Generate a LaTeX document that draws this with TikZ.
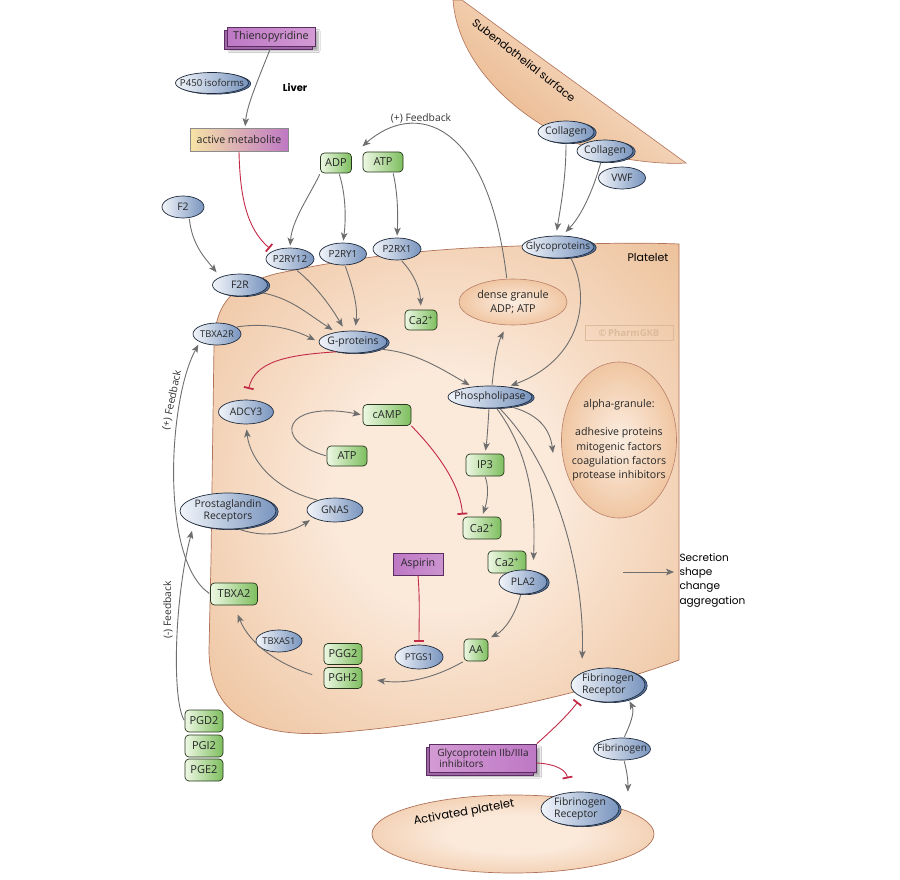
\documentclass[tikz,border=0pt]{standalone}
\usepackage{fontspec}
\setmainfont{Open Sans}
\newfontfamily\comic{Poppins}
\usetikzlibrary{shapes.geometric,arrows.meta,shadows,shadows.blur}
\definecolor{ellL}{HTML}{F2F5FA}
\definecolor{ellR}{HTML}{7894BE}
\definecolor{ellS}{HTML}{5A78A4}
\definecolor{ellD}{HTML}{1F2B3C}
\definecolor{gL}{HTML}{EEF8E4}
\definecolor{gR}{HTML}{7DBE5E}
\definecolor{gD}{HTML}{26361C}
\definecolor{pL}{HTML}{BE78C4}
\definecolor{pR}{HTML}{D39AD4}
\definecolor{pD}{HTML}{5A2E60}
\definecolor{plIn}{HTML}{FBE9DA}
\definecolor{plOut}{HTML}{E8B385}
\definecolor{plD}{HTML}{B07258}
\definecolor{granIn}{HTML}{FCEEE2}
\definecolor{granOut}{HTML}{F0C6A2}
\definecolor{granD}{HTML}{B98069}
\definecolor{arrc}{HTML}{6E6E6E}
\definecolor{inhc}{HTML}{C22A48}
\definecolor{ymet}{HTML}{F7E3A6}
\definecolor{wm}{HTML}{DDBB9A}
\pgfdeclareradialshading{pltshade}{\pgfpoint{0bp}{0bp}}{color(0bp)=(plIn); color(12bp)=(plIn); color(44bp)=(plOut); color(50bp)=(plOut)}
\newcommand{\zt}[1]{\makebox[0pt]{#1}}
\begin{document}
\begin{tikzpicture}[x=1pt,y=-1pt,
  ell/.style={ellipse, draw=ellD, line width=0.7pt, left color=ellL, right color=ellR, inner sep=0pt, font=\fontsize{10.4}{12}\selectfont, text=black!85},
  dbl/.style={general shadow={shadow xshift=2.2pt, shadow yshift=-0.7pt, fill=ellS, draw=ellD, line width=0.6pt}},
  gbox/.style={rectangle, rounded corners=4pt, draw=gD, line width=0.7pt, left color=gL, right color=gR, inner sep=0pt, minimum height=21pt, font=\fontsize{11}{12}\selectfont, text=black!85},
  pbox/.style={rectangle, draw=pD, line width=0.7pt, left color=pL, right color=pR, inner sep=0pt, text=black!85},
  pdbl/.style={blur shadow={shadow xshift=3pt, shadow yshift=-4pt, shadow blur steps=6, shadow opacity=35}, general shadow={shadow xshift=-3pt, shadow yshift=-3pt, fill=pL!85!black, draw=pD, line width=0.7pt}},
  gran/.style={ellipse, draw=granD, line width=0.6pt, inner color=granIn, outer color=granOut, inner sep=0pt, align=center, font=\fontsize{10.8}{13.5}\selectfont, text=black!85},
  arr/.style={draw=arrc, line width=0.9pt, -{Stealth[length=8pt,width=6.5pt,inset=2pt]}, shorten >=2pt, shorten <=1pt},
  inh/.style={draw=inhc, line width=0.9pt, -{Bar[width=10pt,line width=1.8pt]}},
  lbl/.style={font=\fontsize{10.3}{12}\selectfont, text=black!80},
  cmc/.style={font=\comic\fontsize{11}{13}\selectfont, text=black}
]
\useasboundingbox (0,0) rectangle (900,880);
\fill[white] (0,0) rectangle (900,880);

% subendothelial surface
\path[draw=plD, line width=0.6pt, top color=plIn, bottom color=plOut, shading angle=-40]
  (453,0) -- (462,0) .. controls (530,50) and (620,115) .. (686,163)
  .. controls (670,164) and (650,163) .. (620,158)
  .. controls (530,135) and (458,70) .. (453,0) -- cycle;

% platelet
\path[draw=plD, line width=0.7pt, shading=pltshade]
  (211,560) -- (214,345) .. controls (215,300) and (235,285) .. (275,274)
  .. controls (340,260) and (400,252) .. (470,248)
  .. controls (560,244) and (630,242) .. (679,244) -- (679,660)
  .. controls (600,690) and (450,725) .. (330,733)
  .. controls (250,738) and (209,712) .. (209,650) -- cycle;

% activated platelet
\path[draw=plD, line width=0.7pt, shading=pltshade] (513,834) ellipse (141 and 39);

% granules and watermark
\node[gran, minimum width=108pt, minimum height=46pt] (dense) at (513,302) {dense granule\\ADP; ATP};
\node[gran, minimum width=115pt, minimum height=156pt] (alpha) at (619,440)
  {\zt{\fontsize{10.6}{14.3}\selectfont\begin{tabular}{@{}c@{}}alpha-granule:\\ \\ adhesive proteins\\ mitogenic factors\\ coagulation factors\\ protease inhibitors\end{tabular}}};
\node[draw=wm, line width=0.8pt, text=wm, font=\bfseries\fontsize{9.5}{11}\selectfont, minimum width=88pt, minimum height=15pt, inner sep=0pt] (wmk) at (629,333) {\textcopyright\,PharmGKB};

% nodes
\node[pbox, pdbl, minimum width=88pt, minimum height=19pt, font=\fontsize{10.8}{13}\selectfont] (thieno) at (271,37) {Thienopyridine};
\node[ell, dbl, minimum width=73pt, minimum height=21pt, font=\fontsize{9.6}{11}\selectfont] (p450) at (212,83) {\zt{P450 isoforms}};
\node[cmc, font=\comic\bfseries\fontsize{10}{12}\selectfont] (liver) at (295,88) {Liver};
\node[rectangle, draw=black!45, line width=0.6pt, left color=ymet, right color=pL, minimum width=98pt, minimum height=23pt, inner sep=0pt, font=\fontsize{10.6}{12}\selectfont, text=black!85] (actmet) at (239,140) {active metabolite};
\node[lbl] (fbtop) at (421,118) {(+) Feedback};
\node[gbox, minimum width=31pt, minimum height=20pt] (adp) at (336,163) {ADP};
\node[gbox, minimum width=40pt, minimum height=20pt] (atpa) at (383,162) {ATP};
\node[ell, minimum width=42pt, minimum height=22pt] (f2) at (183,207) {\zt{F2}};
\node[ell, minimum width=48pt, minimum height=22pt, font=\fontsize{9.8}{11}\selectfont] (p2ry12) at (290,259) {\zt{P2RY12}};
\node[ell, minimum width=47pt, minimum height=22pt, font=\fontsize{9.8}{11}\selectfont] (p2ry1) at (343,254) {\zt{P2RY1}};
\node[ell, minimum width=48pt, minimum height=22pt, font=\fontsize{9.8}{11}\selectfont] (p2rx1) at (397,249) {\zt{P2RX1}};
\node[ell, dbl, minimum width=55pt, minimum height=22pt] (f2r) at (240,285) {\zt{F2R}};
\node[gbox, minimum width=32pt, minimum height=20pt] (caa) at (421,320) {Ca2\textsuperscript{+}};
\node[ell, minimum width=48pt, minimum height=22pt, font=\fontsize{9.4}{11}\selectfont] (tbxa2r) at (217,334) {\zt{TBXA2R}};
\node[ell, dbl, minimum width=68pt, minimum height=22pt] (gprot) at (353,342) {\zt{G-proteins}};
\node[ell, dbl, minimum width=72pt, minimum height=22pt, font=\fontsize{10}{11}\selectfont] (glyco) at (558,247) {\zt{Glycoproteins}};
\node[ell, dbl, minimum width=56pt, minimum height=22pt] (colla) at (566,132) {\zt{Collagen}};
\node[ell, dbl, minimum width=56pt, minimum height=22pt] (collb) at (605,151) {\zt{Collagen}};
\node[ell, minimum width=47pt, minimum height=22pt] (vwf) at (622,178) {\zt{VWF}};
\node[cmc] (plt) at (648,257) {Platelet};
\node[ell, dbl, minimum width=84pt, minimum height=22pt] (phos) at (490,397) {\zt{Phospholipase}};
\node[ell, minimum width=55pt, minimum height=24pt] (adcy3) at (246,412) {\zt{ADCY3}};
\node[gbox, minimum width=48pt, minimum height=21pt] (camp) at (387,415) {cAMP};
\node[gbox, minimum width=40pt, minimum height=20pt] (atpb) at (347,456) {ATP};
\node[gbox, minimum width=38pt, minimum height=22pt] (ip3) at (485,465) {IP3};
\node[gbox, minimum width=38pt, minimum height=22pt] (cab) at (482,528) {Ca2\textsuperscript{+}};
\node[ell, dbl, minimum width=96pt, minimum height=36pt] (prost) at (228,511) {\zt{\begin{tabular}{@{}c@{}}Prostaglandin\\Receptors\end{tabular}}};
\node[ell, minimum width=56pt, minimum height=24pt] (gnas) at (335,510) {\zt{GNAS}};
\node[gbox, minimum width=38pt, minimum height=22pt] (cac) at (507,562) {Ca2\textsuperscript{+}};
\node[ell, dbl, minimum width=48pt, minimum height=24pt] (pla2) at (523,582) {\zt{PLA2}};
\node[pbox, minimum width=50pt, minimum height=22pt, font=\fontsize{10.6}{12}\selectfont, left color=pL, right color=pL!80!white] (asp) at (418,564) {Aspirin};
\node[gbox, minimum width=47pt, minimum height=22pt] (tbxa2) at (234,594) {TBXA2};
\node[ell, minimum width=46pt, minimum height=22pt, font=\fontsize{9.4}{11}\selectfont] (tbxas1) at (279,641) {\zt{TBXAS1}};
\node[gbox, minimum width=38pt, minimum height=21pt] (pgg2) at (343,654) {PGG2};
\node[gbox, minimum width=38pt, minimum height=21pt] (pgh2) at (343,678) {PGH2};
\node[ell, minimum width=48pt, minimum height=24pt, font=\fontsize{9.4}{11}\selectfont] (ptgs1) at (419,657) {\zt{PTGS1}};
\node[gbox, minimum width=24pt, minimum height=22pt] (aa) at (476,650) {AA};
\node[gbox, minimum width=38pt, minimum height=22pt] (pgd2) at (204,721) {PGD2};
\node[gbox, minimum width=38pt, minimum height=22pt] (pgi2) at (204,746) {PGI2};
\node[gbox, minimum width=38pt, minimum height=22pt] (pge2) at (204,770) {PGE2};
\node[pbox, pdbl, minimum width=107pt, minimum height=28pt, font=\fontsize{10}{11.5}\selectfont, align=left, left color=pR, right color=pL] (gpinh) at (483,758) {Glycoprotein IIb/IIIa\\\hspace*{2pt}inhibitors};
\node[ell, dbl, minimum width=74pt, minimum height=32pt] (fra) at (608,685) {\zt{\begin{tabular}{@{}l@{}}Fibrinogen\\Receptor\end{tabular}}};
\node[ell, minimum width=57pt, minimum height=22pt, font=\fontsize{10}{11}\selectfont] (fbg) at (622,749) {\zt{Fibrinogen}};
\node[ell, dbl, minimum width=78pt, minimum height=34pt] (frb) at (580,809) {\zt{\begin{tabular}{@{}l@{}}Fibrinogen\\Receptor\end{tabular}}};

% free labels
\node[cmc, font=\comic\fontsize{10.5}{14.3}\selectfont, align=left, anchor=west] (secr) at (676,580) {Secretion\\shape\\change\\aggregation};
\node[lbl, rotate=78] (fbp) at (172,400) {(+) Feedback};
\node[lbl, rotate=90] (fbm) at (168,610) {(-) Feedback};
\node[cmc, font=\comic\fontsize{11.5}{13}\selectfont, rotate=10] (actp) at (464,813) {Activated platelet};
\node[cmc, font=\comic\fontsize{11}{13}\selectfont, rotate=-38] (subt) at (524,60) {Subendothelial surface};

% connectors
\draw[arr] (thieno.south) .. controls (258,80) and (247,105) .. ([xshift=6pt]actmet.north);
\draw[inh, shorten >=4pt] (actmet.south) .. controls (240,195) and (246,228) .. (p2ry12.north west);
\draw[arr] (adp.south west) .. controls (310,195) and (292,220) .. (p2ry12.north);
\draw[arr] ([xshift=3pt]adp.south) .. controls (346,195) and (346,220) .. (p2ry1.north);
\draw[arr] ([xshift=10pt]atpa.south) .. controls (398,195) and (398,215) .. (p2rx1.north);
\draw[arr] (dense.105) .. controls (488,120) and (415,100) .. ([xshift=9pt,yshift=5pt]adp.north east);
\draw[arr, shorten >=6pt] (f2.-60) .. controls (192,245) and (205,258) .. (f2r.north west);
\draw[arr, shorten >=5pt] (p2ry12.-60) .. controls (315,285) and (330,305) .. (gprot.125);
\draw[arr, shorten >=5pt] (p2ry1.-80) .. controls (352,285) and (358,305) .. (gprot.80);
\draw[arr, shorten >=4pt] (f2r.-20) .. controls (290,298) and (305,312) .. (gprot.150);
\draw[arr, shorten >=4pt] (tbxa2r.20) .. controls (270,322) and (295,330) .. (gprot.west);
\draw[arr, shorten >=4pt] (p2rx1.-70) .. controls (415,275) and (420,290) .. (caa.north);
\draw[inh, shorten >=11pt] (gprot.210) .. controls (285,355) and (255,362) .. (adcy3.north);
\draw[arr, shorten >=3pt] (gprot.-15) .. controls (415,352) and (440,368) .. (phos.150);
\draw[arr, shorten >=7pt] (phos.80) .. controls (494,365) and (497,345) .. (dense.-105);
\draw[arr, shorten >=3pt] (glyco.-40) .. controls (592,300) and (580,360) .. (phos.30);
\draw[arr, shorten >=5pt] (colla.south) .. controls (566,180) and (560,210) .. (glyco.100);
\draw[arr, shorten >=5pt] (collb.250) .. controls (593,190) and (582,215) .. (glyco.70);
\draw[arr] (atpb.west) .. controls (270,440) and (285,400) .. (camp.west);
\draw[arr, shorten >=5pt] (gnas.150) .. controls (275,490) and (250,460) .. (adcy3.south);
\draw[arr, shorten >=4pt] (prost.-60) .. controls (270,540) and (295,530) .. (gnas.200);
\draw[inh, shorten >=2pt] (camp.south east) .. controls (430,445) and (460,480) .. (cab.north west);
\draw[arr, shorten >=3pt] (phos.-95) .. controls (488,425) and (487,440) .. (ip3.north);
\draw[arr, shorten >=3pt] (ip3.south) .. controls (490,490) and (486,505) .. (cab.north);
\draw[arr] (phos.-60) .. controls (535,460) and (535,520) .. ([xshift=7pt]cac.east);
\draw[arr, shorten >=14pt] (phos.-50) .. controls (560,470) and (585,580) .. (fra.north west);
\coordinate (alphain) at (553,453);
\draw[arr, shorten >=0pt] (phos.-25) .. controls (540,415) and (550,430) .. (alphain);
\draw[inh, shorten >=3pt] (asp.south) .. controls (420,600) and (419,620) .. (ptgs1.north);
\draw[arr, shorten >=3pt] (pla2.-100) .. controls (515,615) and (505,630) .. (aa.north east);
\draw[arr, shorten >=15pt] (aa.south west) .. controls (440,675) and (410,685) .. (pgh2.east);
\draw[arr, shorten <=12pt, shorten >=10pt] (pgh2.west) .. controls (280,665) and (250,645) .. (tbxa2.south);
\draw[arr, shorten >=3pt] (tbxa2.west) .. controls (160,560) and (168,400) .. (tbxa2r.south west);
\draw[arr, shorten >=7pt] (pgd2.west) .. controls (172,700) and (174,600) .. (prost.south west);
\draw[inh, shorten >=6pt] (gpinh.north east) .. controls (560,723) and (570,712) .. (fra.south west);
\draw[inh, shorten >=14pt] ([yshift=-5pt]gpinh.east) .. controls (556,764) and (566,770) .. (frb.120);
\draw[arr, shorten >=2pt] (fbg.80) .. controls (630,725) and (635,712) .. (fra.-35);
\draw[arr, shorten >=2pt] (fbg.-80) .. controls (628,775) and (628,785) .. ([xshift=20pt,yshift=3pt]frb.north east);
\coordinate (secstart) at (622,572);
\draw[arr] (secstart) -- (secr.west |- secstart);
\end{tikzpicture}
\end{document}
